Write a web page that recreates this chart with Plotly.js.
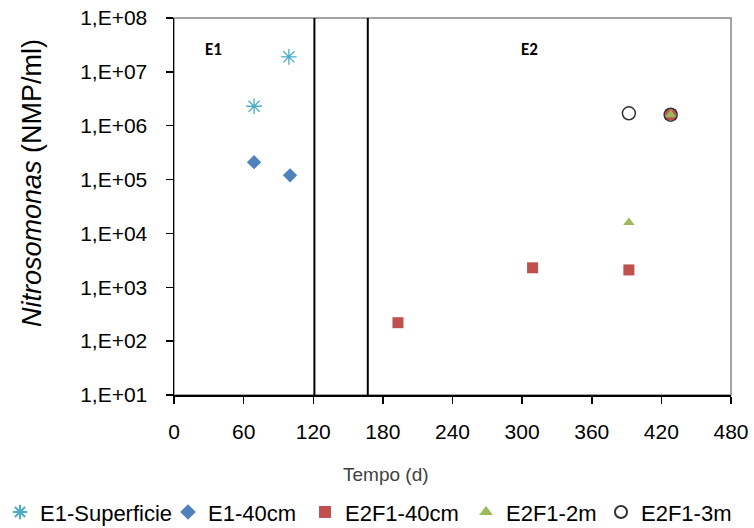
<!DOCTYPE html>
<html><head><meta charset="utf-8">
<script src="https://cdn.plot.ly/plotly-3.0.1.min.js"></script>
<style>html,body{margin:0;padding:0;background:#fff}#chart{width:754px;height:528px}</style>
</head><body><div id="chart"></div>
<script>
const seriesNames = ['E1-Superficie', 'E1-40cm', 'E2F1-40cm', 'E2F1-2m', 'E2F1-3m'];
const e1SupDays = [69, 99];
const e1SupVals = [2.3e6, 1.9e7];
const e1Cm40Days = [69, 100];
const e1Cm40Vals = [2.1e5, 1.2e5];
const e2f1Cm40Days = [193, 309, 392, 428];
const e2f1Cm40Vals = [2.2e2, 2.3e3, 2.1e3, 1.6e6];
const e2f1M2Days = [392, 428];
const e2f1M2Vals = [1.6e4, 1.6e6];
const e2f1M3Days = [392, 428];
const e2f1M3Vals = [1.7e6, 1.6e6];
const xTickVals = [0, 60, 120, 180, 240, 300, 360, 420, 480];
const yTickVals = [1e1, 1e2, 1e3, 1e4, 1e5, 1e6, 1e7, 1e8];
const yTickText = ['1,E+01', '1,E+02', '1,E+03', '1,E+04', '1,E+05', '1,E+06', '1,E+07', '1,E+08'];
const phaseBounds = [121, 167];
const phaseLabels = ['E1', 'E2'];
const phaseLabelDays = [34, 306];
const phaseLabelVal = 2.6e7;
const xTitle = 'Tempo (d)';
const yTitle = '<i>Nitrosomonas</i> (NMP/ml)';

const FONT = 'Liberation Sans, Arial, sans-serif';
const legendIds = ['legend', 'legend2', 'legend3', 'legend4', 'legend5'];
const legendLeftPx = [0, 168, 305, 466, 601];

const traces = [
  {x: e1SupDays, y: e1SupVals, name: seriesNames[0], type: 'scatter', mode: 'markers',
   marker: {symbol: 'asterisk-open', size: 13, color: '#4bacc6', line: {color: '#4bacc6', width: 1.3}}},
  {x: e1Cm40Days, y: e1Cm40Vals, name: seriesNames[1], type: 'scatter', mode: 'markers',
   marker: {symbol: 'diamond', size: 11, color: '#4f81bd'}},
  {x: e2f1Cm40Days, y: e2f1Cm40Vals, name: seriesNames[2], type: 'scatter', mode: 'markers',
   marker: {symbol: 'square', size: 11, color: '#c0504d'}},
  {x: e2f1M2Days, y: e2f1M2Vals, name: seriesNames[3], type: 'scatter', mode: 'markers',
   marker: {symbol: 'triangle-up', size: 10, color: '#9bbb59'}},
  {x: e2f1M3Days, y: e2f1M3Vals, name: seriesNames[4], type: 'scatter', mode: 'markers',
   marker: {symbol: 'circle-open', size: 13, color: '#333333', line: {color: '#333333', width: 1.5}}}
];
traces.forEach((t, i) => { t.legend = legendIds[i]; });

const shapes = [
  {type: 'rect', xref: 'paper', yref: 'paper', x0: 0, x1: 1, y0: 0, y1: 1,
   line: {color: '#868686', width: 1.5}, layer: 'below'}
].concat(phaseBounds.map(b => ({
  type: 'line', xref: 'x', yref: 'paper', x0: b, x1: b, y0: 0, y1: 1,
  line: {color: '#000000', width: 2}
})));

const annotations = phaseLabels.map((t, i) => ({
  text: '<b>' + t + '</b>', x: phaseLabelDays[i], y: Math.log10(phaseLabelVal),
  xref: 'x', yref: 'y', showarrow: false,
  font: {family: 'Carlito, Calibri, ' + FONT, size: 17, color: '#000'}
})).concat([
  {text: yTitle, xref: 'paper', yref: 'paper', x: -0.255, y: 0.562, textangle: -90,
   xanchor: 'center', yanchor: 'middle',
   showarrow: false, font: {family: FONT, size: 27, color: '#000'}},
  {text: xTitle, xref: 'paper', yref: 'paper', x: 0.381, y: -0.212,
   xanchor: 'center', yanchor: 'middle', showarrow: false,
   font: {family: FONT, size: 19, color: '#404040'}}
]);

const layout = {
  width: 754, height: 528,
  margin: {l: 174, r: 23, t: 18, b: 133},
  paper_bgcolor: '#ffffff', plot_bgcolor: '#ffffff',
  font: {family: FONT, color: '#000'},
  showlegend: true,
  xaxis: {range: [0, 480], tickvals: xTickVals, ticks: 'outside', ticklen: 7, tickwidth: 1.5,
          tickcolor: '#000', showline: true, linecolor: '#000', linewidth: 1.5,
          showgrid: false, zeroline: false, ticklabelstandoff: 10,
          tickfont: {family: FONT, size: 21, color: '#000'}},
  yaxis: {type: 'log', range: [1, 8], tickvals: yTickVals, ticktext: yTickText,
          ticks: 'outside', ticklen: 7, tickwidth: 1.5, tickcolor: '#000',
          showline: true, linecolor: '#000', linewidth: 1.5, showgrid: false, zeroline: false,
          ticklabelstandoff: 14, tickfont: {family: FONT, size: 21, color: '#000'}},
  shapes: shapes,
  annotations: annotations
};
legendIds.forEach((id, i) => {
  layout[id] = {orientation: 'h', xref: 'container', yref: 'container',
    x: legendLeftPx[i] / 754, xanchor: 'left', y: 0.03, yanchor: 'middle',
    font: {family: FONT, size: 22, color: '#000'}, itemsizing: 'constant',
    bgcolor: 'rgba(0,0,0,0)'};
});

Plotly.newPlot('chart', traces, layout, {displayModeBar: false, staticPlot: true});
</script>
</body></html>
